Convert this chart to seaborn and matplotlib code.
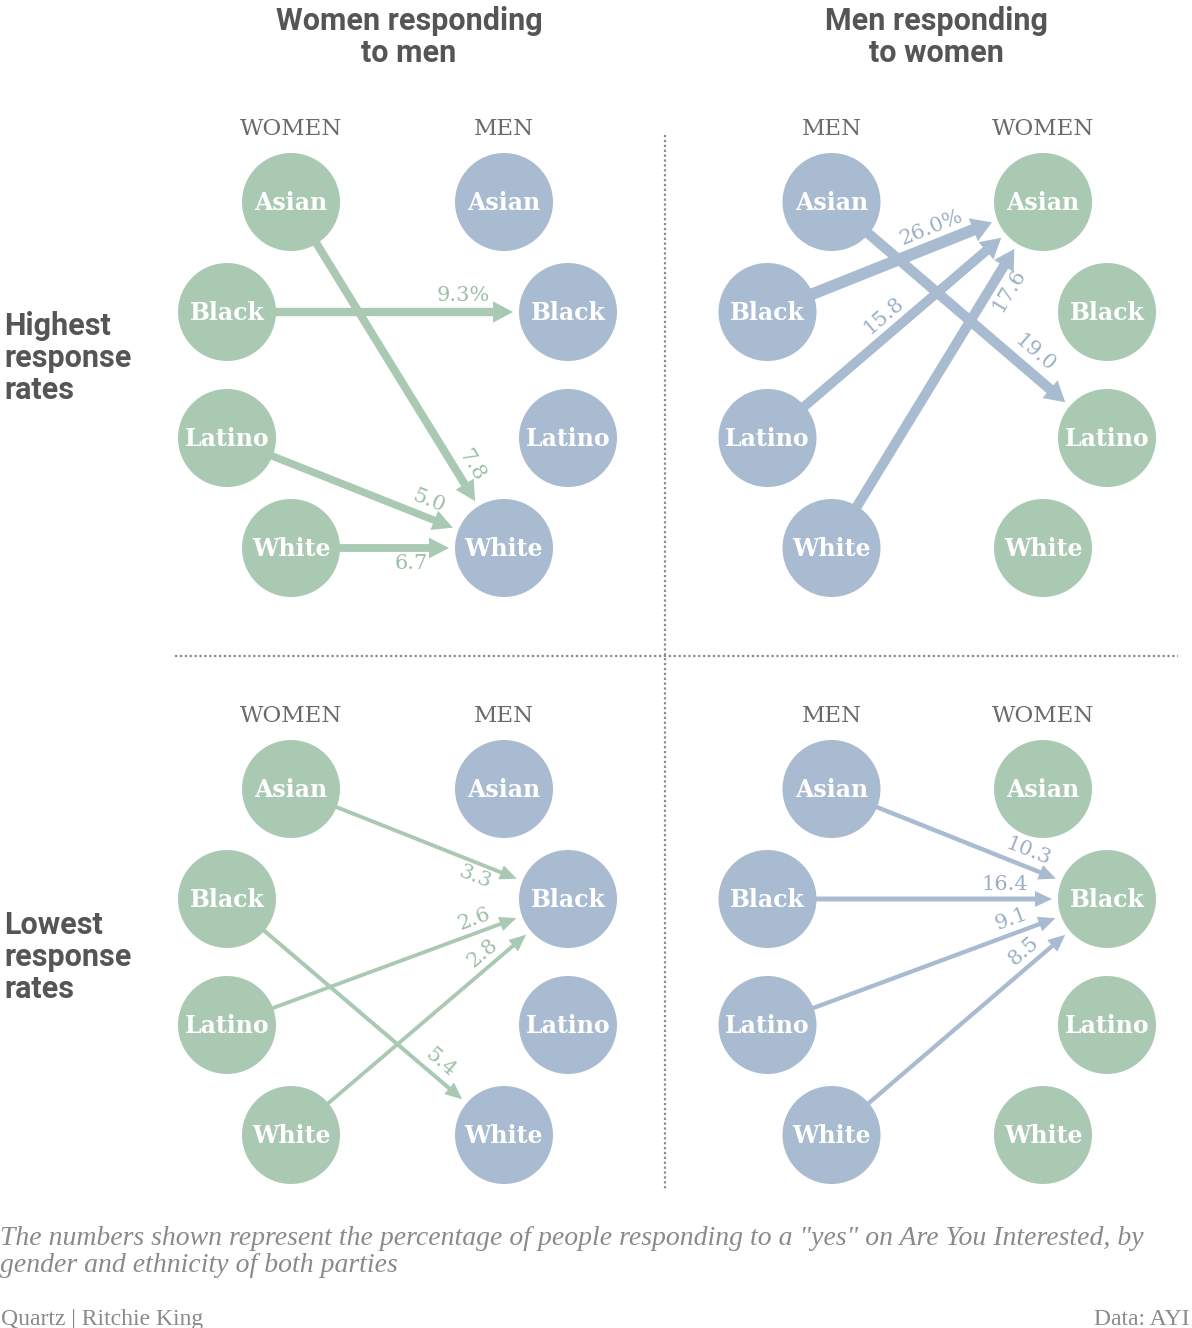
import numpy as np
import pandas as pd
import seaborn as sns
import matplotlib.pyplot as plt

# ethnic groups (same order in every column)
groups = ["Asian", "Black", "Latino", "White"]

# Highest response rates, women responding to men
hi_w2m_src = ["Asian", "Black", "Latino", "White"]
hi_w2m_dst = ["White", "Black", "White", "White"]
hi_w2m_val = [7.8, 9.3, 5.0, 6.7]

# Highest response rates, men responding to women
hi_m2w_src = ["Black", "Asian", "Latino", "White"]
hi_m2w_dst = ["Asian", "Latino", "Asian", "Asian"]
hi_m2w_val = [26.0, 19.0, 15.8, 17.6]

# Lowest response rates, women responding to men
lo_w2m_src = ["Asian", "Latino", "White", "Black"]
lo_w2m_dst = ["Black", "Black", "Black", "White"]
lo_w2m_val = [3.3, 2.6, 2.8, 5.4]

# Lowest response rates, men responding to women
lo_m2w_src = ["Asian", "Black", "Latino", "White"]
lo_m2w_dst = ["Black", "Black", "Black", "Black"]
lo_m2w_val = [10.3, 16.4, 9.1, 8.5]

col_titles = ["Women responding\nto men", "Men responding\nto women"]
row_titles = ["Highest\nresponse\nrates", "Lowest\nresponse\nrates"]
note = ("The numbers shown represent the percentage of people responding to a \"yes\" on Are You Interested, by\n"
        "gender and ethnicity of both parties")

GREEN = "#a9c9b3"
BLUE = "#a9bbd0"
GREEN_TXT = "#9cc0a6"
BLUE_TXT = "#9cafc6"

# label placement helpers (side of arrow, distance back from the tip)
lab_side = [[1, 1, 1, -1], [1, 1, 1, -1], [-1, 1, 1, 1], [1, 1, 1, 1]]
lab_back = [[32, 50, 32, 38], [58, 55, 140, 38], [40, 40, 45, 40], [36, 47, 42, 42]]
pct_at = [1, 0, None, None]

fig = plt.figure(figsize=(11.92, 13.28), dpi=100)
ax = fig.add_axes([0, 0, 1, 1])

row_dy = [0, 110, 236, 346]
R = 49


def node_xy(cx, left, g, y0):
    i = groups.index(g)
    inner = i in (0, 3)
    if left:
        x = cx + 32 if inner else cx - 32
    else:
        x = cx - 32 if inner else cx + 32
    return x, y0 + row_dy[i]


panels = [
    # (left col center, right col center, y0, left sex, right sex, src, dst, val)
    (259, 536, 202, "WOMEN", "MEN", hi_w2m_src, hi_w2m_dst, hi_w2m_val),
    (799.5, 1075, 202, "MEN", "WOMEN", hi_m2w_src, hi_m2w_dst, hi_m2w_val),
    (259, 536, 789, "WOMEN", "MEN", lo_w2m_src, lo_w2m_dst, lo_w2m_val),
    (799.5, 1075, 789, "MEN", "WOMEN", lo_m2w_src, lo_m2w_dst, lo_m2w_val),
]

rows = []
for p, (lcx, rcx, y0, lsex, rsex, src, dst, val) in enumerate(panels):
    for g in groups:
        x, y = node_xy(lcx, True, g, y0)
        rows.append({"panel": p, "x": x, "y": y, "group": g, "sex": lsex})
        x, y = node_xy(rcx, False, g, y0)
        rows.append({"panel": p, "x": x, "y": y, "group": g, "sex": rsex})
nodes = pd.DataFrame(rows)

sns.scatterplot(data=nodes, x="x", y="y", hue="sex",
                palette={"WOMEN": GREEN, "MEN": BLUE},
                s=(2 * R / 100 * 72) ** 2, linewidth=0, legend=False,
                zorder=2, ax=ax)

for _, r in nodes.iterrows():
    ax.text(r["x"], r["y"] + 1, r["group"], ha="center", va="center",
            color="white", fontsize=17, fontweight="bold",
            family="DejaVu Serif", zorder=5)

# arrows
for p, (lcx, rcx, y0, lsex, rsex, src, dst, val) in enumerate(panels):
    top = p < 2
    col = GREEN if lsex == "WOMEN" else BLUE
    tcol = GREEN_TXT if lsex == "WOMEN" else BLUE_TXT
    for k, (s, d, v) in enumerate(zip(src, dst, val)):
        x1, y1 = node_xy(lcx, True, s, y0)
        x2, y2 = node_xy(rcx, False, d, y0)
        dx, dy = x2 - x1, y2 - y1
        L = np.hypot(dx, dy)
        ux, uy = dx / L, dy / L
        sx, sy = x1 + ux * (R - 2), y1 + uy * (R - 2)
        ex, ey = x2 - ux * (R + 6), y2 - uy * (R + 6)
        if top:
            w = 6.5 + 0.2 * v
            hw, hl = w + 13, 20
        else:
            w = 3.6 + 0.08 * v
            hw, hl = w + 11, 17
        ax.arrow(sx, sy, ex - sx, ey - sy, width=w, head_width=hw,
                 head_length=hl, length_includes_head=True,
                 color=col, linewidth=0, zorder=3)
        # value label
        off = w / 2 + 12
        side = lab_side[p][k]
        back = lab_back[p][k]
        lx = ex - back * ux + side * off * uy
        ly = ey - back * uy - side * off * ux
        ang = np.degrees(np.arctan2(-uy, ux))
        txt = f"{v:.1f}" + ("%" if pct_at[p] == k else "")
        ax.text(lx, ly, txt, ha="center", va="center", rotation=ang,
                rotation_mode="anchor", color=tcol, fontsize=15,
                family="DejaVu Serif", zorder=4)
    # column headers
    lx, ly = node_xy(lcx, True, "Asian", y0)
    rx, ry = node_xy(rcx, False, "Asian", y0)
    ax.text(lx, ly - 73, lsex, ha="center", va="center", color="#6a6a6a",
            fontsize=16.5, family="DejaVu Serif")
    ax.text(rx, ry - 73, rsex, ha="center", va="center", color="#6a6a6a",
            fontsize=16.5, family="DejaVu Serif")

# titles
for cx, t in zip([409, 936], col_titles):
    ax.text(cx, 37, t, ha="center", va="center", color="#555555",
            fontsize=22, fontweight="bold", family="Roboto", linespacing=1.05)
for cy, t in zip([358, 957], row_titles):
    ax.text(4, cy, t, ha="left", va="center", color="#555555",
            fontsize=22, fontweight="bold", family="Roboto", linespacing=1.08)

# dotted dividers
ax.plot([665, 665], [135, 1190], color="#8a8a8a", linestyle=(0, (1, 1.2)),
        linewidth=1.6, zorder=1)
ax.plot([175, 1178], [656, 656], color="#8a8a8a", linestyle=(0, (1, 1.2)),
        linewidth=1.6, zorder=1)

# note and credits
ax.text(0, 1252, note, ha="left", va="center", color="#8a8a8a",
        fontsize=20, style="italic", family="Liberation Serif",
        linespacing=1.08)
ax.text(1, 1325, "Quartz | Ritchie King", ha="left", va="baseline",
        color="#8a8a8a", fontsize=17, family="Liberation Serif")
ax.text(1190, 1325, "Data: AYI", ha="right", va="baseline",
        color="#8a8a8a", fontsize=17, family="Liberation Serif")

ax.set_xlim(0, 1192)
ax.set_ylim(1328, 0)
ax.axis("off")

fig.savefig("out.png", dpi=100)
